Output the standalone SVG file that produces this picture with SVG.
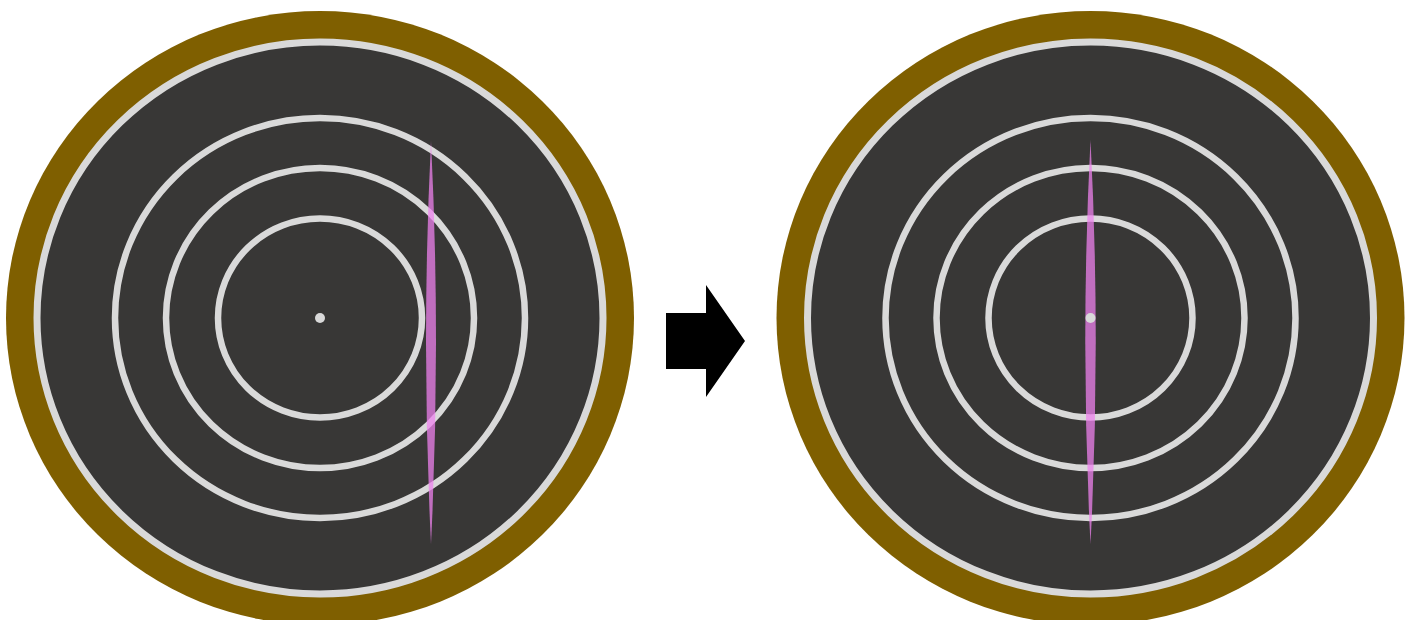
<svg xmlns="http://www.w3.org/2000/svg" width="1415" height="620" viewBox="0 0 1415 620">
  <style>
    .rim { fill: #7f5f00; }
    .face { fill: #383736; stroke: #d9d9d9; stroke-width: 7; }
    .ring { fill: none; stroke: #d9d9d9; stroke-width: 6.5; }
    .dot { fill: #d9d9d9; }
    .lens { fill: #ee82ee; fill-opacity: 0.75; }
    .arrow { fill: #000000; }
  </style>
  <rect width="1415" height="620" fill="#ffffff"/>
  <g id="disc-left">
    <ellipse class="rim" cx="320" cy="318" rx="314" ry="307"/>
    <ellipse class="face" cx="320" cy="318" rx="283" ry="276"/>
    <ellipse class="ring" cx="320" cy="318" rx="205" ry="200"/>
    <ellipse class="ring" cx="320" cy="318" rx="154" ry="150"/>
    <ellipse class="ring" cx="320" cy="318" rx="102" ry="99.5"/>
    <path class="lens" d="M431,141 Q441,342.5 431,544 Q421,342.5 431,141 Z"/>
    <circle class="dot" cx="320" cy="318" r="5"/>
  </g>
  <g id="disc-right">
    <ellipse class="rim" cx="1090.5" cy="318" rx="314" ry="307"/>
    <ellipse class="face" cx="1090.5" cy="318" rx="283" ry="276"/>
    <ellipse class="ring" cx="1090.5" cy="318" rx="205" ry="200"/>
    <ellipse class="ring" cx="1090.5" cy="318" rx="154" ry="150"/>
    <ellipse class="ring" cx="1090.5" cy="318" rx="102" ry="99.5"/>
    <path class="lens" d="M1090.5,140 Q1101,342 1090.5,544 Q1080,342 1090.5,140 Z"/>
    <circle class="dot" cx="1090.5" cy="318" r="5"/>
  </g>
  <g id="connectors">
    <polygon class="arrow" points="666,313 706,313 706,285 745,341 706,397 706,369 666,369"/>
  </g>
</svg>
